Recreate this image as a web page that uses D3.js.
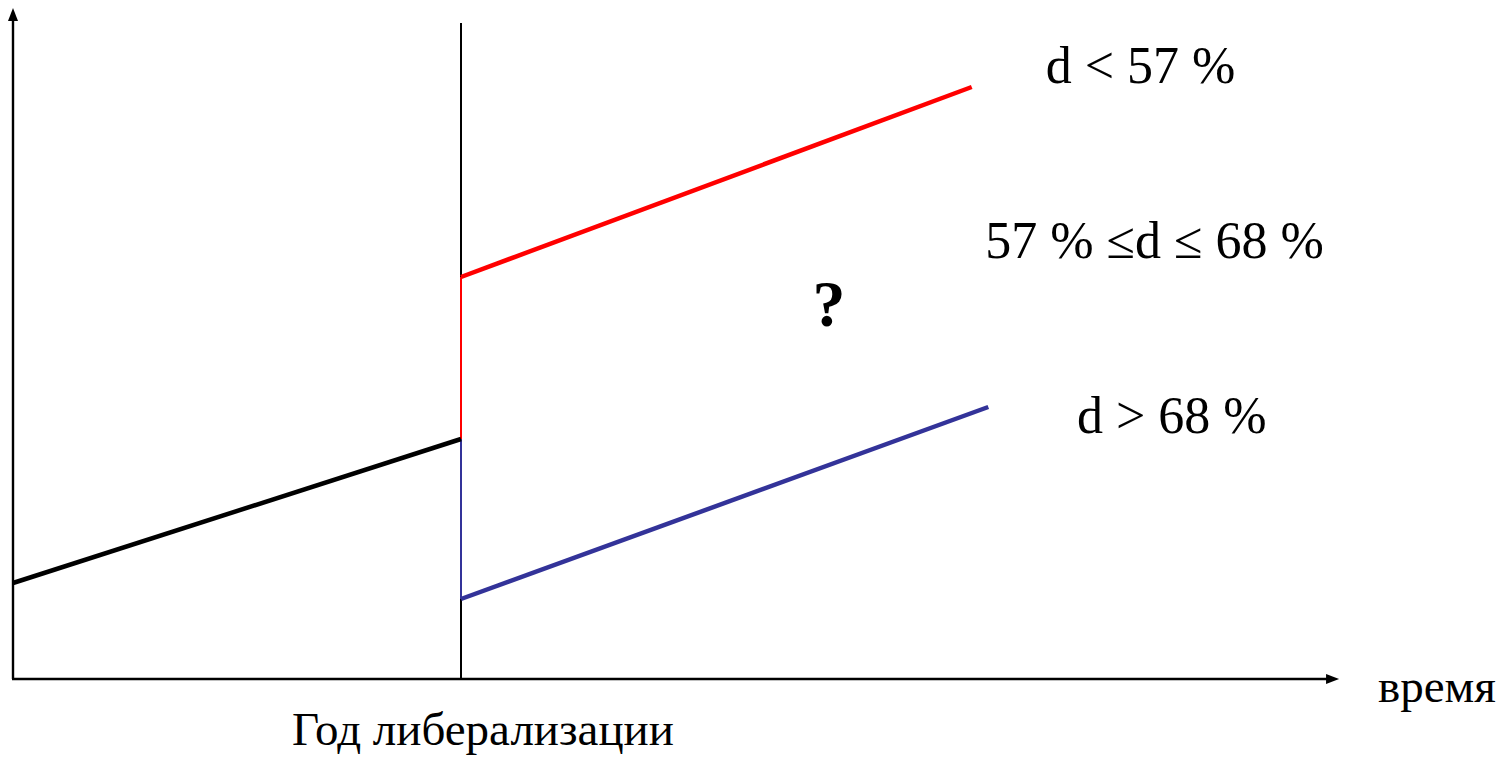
<!DOCTYPE html>
<html>
<head>
<meta charset="utf-8">
<script src="https://cdn.jsdelivr.net/npm/d3@7"></script>
<style>
  html, body { margin: 0; padding: 0; background: #fff; }
  svg text { font-family: "Liberation Serif", "Times New Roman", serif; fill: #000; }
</style>
</head>
<body>
<div id="chart"></div>
<script>
// Liberalization scenarios: a trend before the reform year, three outcomes after it.

const width = 1505;
const height = 757;

// time units on the x axis, level units on the y axis
const reformYear = 10;
const axisEnd = { t: 29.6, v: 67.1 };
const dividerTop = 65.6;

const beforeLine = [{ t: 0, v: 9.6 }, { t: 10, v: 24.0 }];
const highGrowth = [{ t: 10, v: 40.2 }, { t: 21.4, v: 59.2 }];   // d < 57 %
const lowGrowth = [{ t: 10, v: 8.0 }, { t: 21.77, v: 27.2 }];    // d > 68 %

const labels = [
  { text: "d < 57 %", t: 23.05, v: 59.6 },
  { text: "57 % \u2264d \u2264 68 %", t: 21.7, v: 42.1 },
  { text: "d > 68 %", t: 23.75, v: 24.6 }
];

const x = d3.scaleLinear().domain([0, 30]).range([13, 13 + 30 * 44.8]);
const y = d3.scaleLinear().domain([0, 67.1]).range([679, 8]);

const svg = d3.select("#chart").append("svg")
  .attr("width", width)
  .attr("height", height);

const line = d3.line().x(d => x(d.t)).y(d => y(d.v));

// axes with arrowheads
svg.append("line")
  .attr("x1", x(0)).attr("y1", y(0))
  .attr("x2", x(0)).attr("y2", y(axisEnd.v) + 10)
  .attr("stroke", "#000").attr("stroke-width", 2.4);
svg.append("path")
  .attr("d", `M${x(0)},${y(axisEnd.v)} L${x(0) - 5},${y(axisEnd.v) + 13} L${x(0) + 5},${y(axisEnd.v) + 13} Z`)
  .attr("fill", "#000");

svg.append("line")
  .attr("x1", x(0) - 1).attr("y1", y(0))
  .attr("x2", x(axisEnd.t) - 10).attr("y2", y(0))
  .attr("stroke", "#000").attr("stroke-width", 2.4);
svg.append("path")
  .attr("d", `M${x(axisEnd.t)},${y(0)} L${x(axisEnd.t) - 13},${y(0) - 5} L${x(axisEnd.t) - 13},${y(0) + 5} Z`)
  .attr("fill", "#000");

// reform year divider
svg.append("line")
  .attr("x1", x(reformYear)).attr("y1", y(0))
  .attr("x2", x(reformYear)).attr("y2", y(dividerTop))
  .attr("stroke", "#000").attr("stroke-width", 2);

// jumps at the reform year
svg.append("line")
  .attr("x1", x(reformYear)).attr("y1", y(beforeLine[1].v))
  .attr("x2", x(reformYear)).attr("y2", y(highGrowth[0].v))
  .attr("stroke", "#ff0000").attr("stroke-width", 2);
svg.append("line")
  .attr("x1", x(reformYear)).attr("y1", y(beforeLine[1].v))
  .attr("x2", x(reformYear)).attr("y2", y(lowGrowth[0].v))
  .attr("stroke", "#333399").attr("stroke-width", 2);

// trend lines
svg.append("path").datum(beforeLine)
  .attr("d", line).attr("fill", "none")
  .attr("stroke", "#000").attr("stroke-width", 4.5);
svg.append("path").datum(highGrowth)
  .attr("d", line).attr("fill", "none")
  .attr("stroke", "#ff0000").attr("stroke-width", 4.5);
svg.append("path").datum(lowGrowth)
  .attr("d", line).attr("fill", "none")
  .attr("stroke", "#333399").attr("stroke-width", 4.5);

// scenario labels
svg.selectAll(".scenario")
  .data(labels)
  .enter()
  .append("text")
  .attr("class", "scenario")
  .attr("x", d => x(d.t))
  .attr("y", d => y(d.v))
  .style("font-size", "52px")
  .text(d => d.text);

svg.append("text")
  .attr("x", 829)
  .attr("y", 326)
  .attr("text-anchor", "middle")
  .style("font-size", "66px")
  .style("font-weight", "bold")
  .text("?");

// axis captions
svg.append("text")
  .attr("x", 1378)
  .attr("y", 702)
  .style("font-size", "47px")
  .text("время");

svg.append("text")
  .attr("x", 292)
  .attr("y", 745)
  .style("font-size", "47px")
  .text("Год либерализации");
</script>
</body>
</html>
